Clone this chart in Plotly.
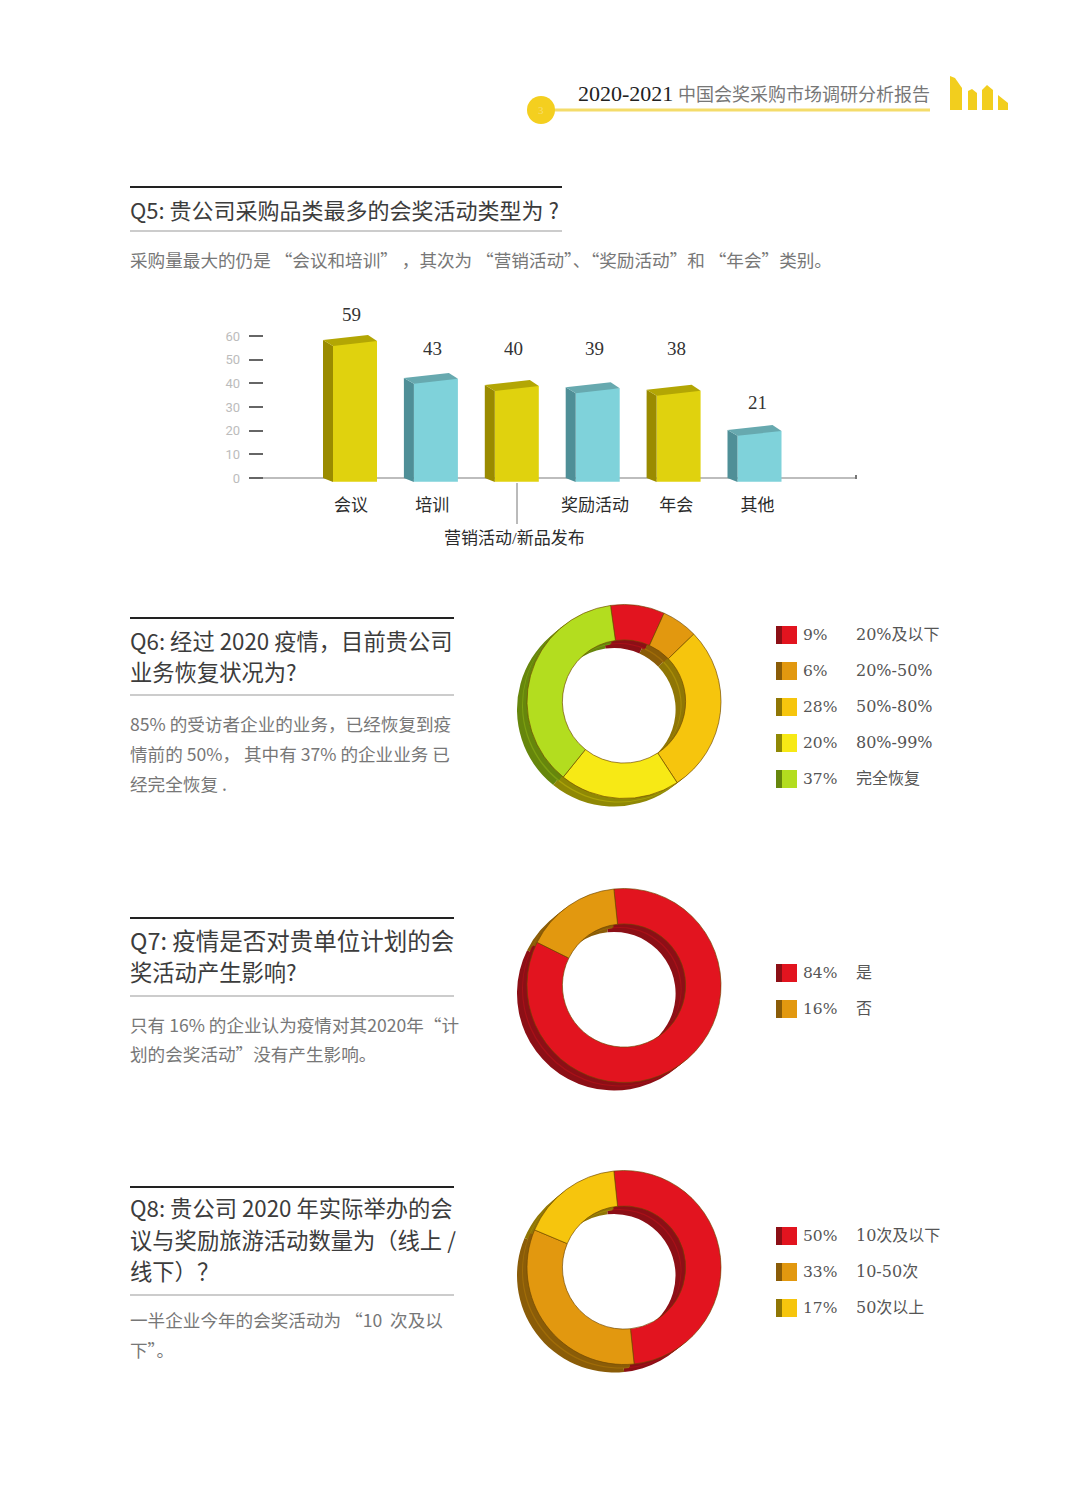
import plotly.graph_objects as go

# ---------- data ----------
bar_categories = ["会议", "培训", "营销活动/新品发布", "奖励活动", "年会", "其他"]
bar_values = [59, 43, 40, 39, 38, 21]

q6_labels = ["20%及以下", "20%-50%", "50%-80%", "80%-99%", "完全恢复"]
q6_values = [9, 6, 28, 20, 37]
q7_labels = ["是", "否"]
q7_values = [84, 16]
q8_labels = ["10次及以下", "10-50次", "50次以上"]
q8_values = [50, 33, 17]

header_year = "2020-2021"
header_title = "中国会奖采购市场调研分析报告"
q5_title = ["Q5: 贵公司采购品类最多的会奖活动类型为 ?"]
q5_body = ["采购量最大的仍是 “会议和培训” ，其次为 “营销活动”、“奖励活动”和 “年会”类别。"]
q6_title = ["Q6: 经过 2020 疫情，目前贵公司", "业务恢复状况为?"]
q6_body = ["85% 的受访者企业的业务，已经恢复到疫", "情前的 50%， 其中有 37% 的企业业务\u00a0已", "经完全恢复 ."]
q7_title = ["Q7: 疫情是否对贵单位计划的会", "奖活动产生影响?"]
q7_body = ["只有 16% 的企业认为疫情对其2020年“计", "划的会奖活动”没有产生影响。"]
q8_title = ["Q8: 贵公司 2020 年实际举办的会", "议与奖励旅游活动数量为（线上 /", "线下）？"]
q8_body = ["一半企业今年的会奖活动为 “10\u00a0\u00a0次及以", "下”。"]

# ---------- style ----------
W, H = 1080, 1504
SERIF = "Liberation Serif, Noto Sans CJK SC"
WIDE_SERIF = "DejaVu Serif, Noto Sans CJK SC"
SANS = "Noto Sans CJK SC, Noto Sans"
RED, RED_D, RED_M = "#e2141f", "#8c0f16", "#a81018"
ORG, ORG_D, ORG_M = "#e2980f", "#8a5c08", "#a06c08"
AMB, AMB_D, AMB_M = "#f6c50d", "#8f7605", "#a88c08"
YEL, YEL_D, YEL_M = "#f7e915", "#8f8805", "#aaa208"
GRN, GRN_D, GRN_M = "#b3dd1f", "#66860c", "#7c9f10"

def fx(p): return p / W
def fy(p): return 1 - p / H

fig = go.Figure()
ann, shp = [], []

def text(x, y, s, size, color, family=SANS, anchor="left"):
    ann.append(dict(x=fx(x), y=fy(y), xref="paper", yref="paper", text=s, showarrow=False,
                    xanchor=anchor, yanchor="middle", align=anchor, borderpad=0, xshift=-1 if anchor == "left" else 0,
                    font=dict(size=size, color=color, family=family)))

def line(x0, y0, x1, y1, color, width):
    shp.append(dict(type="line", xref="paper", yref="paper", x0=fx(x0), x1=fx(x1), y0=fy(y0), y1=fy(y1),
                    line=dict(color=color, width=width)))

def rect(x0, y0, x1, y1, color):
    shp.append(dict(type="rect", xref="paper", yref="paper", x0=fx(x0), x1=fx(x1), y0=fy(y0), y1=fy(y1),
                    fillcolor=color, line=dict(width=0)))

def poly(points, color):
    d = "M" + " L".join(f"{fx(x):.5f},{fy(y):.5f}" for x, y in points) + " Z"
    shp.append(dict(type="path", xref="paper", yref="paper", path=d, fillcolor=color, line=dict(width=0)))

# ---------- bars ----------
PX_PER_X = 80.9
LABEL_STEP = 81.3
AX_L, AX_R = 249, 857
C0 = 350
PX_PER_Y = 2.367
Y0 = 478
AX_T, AX_B = 325, 486
x_rng = [(AX_L - C0) / PX_PER_X, (AX_R - C0) / PX_PER_X]
y_rng = [(Y0 - AX_B) / PX_PER_Y, (Y0 - AX_T) / PX_PER_Y]

BAR_STYLE = [("#e0d20e", "#9a8b00", "#b3a604"), ("#7fd2da", "#4f8f97", "#67a9af")]
idx = list(range(len(bar_values)))
L, F, R, B = -27 / PX_PER_X, -17 / PX_PER_X, 27 / PX_PER_X, 18 / PX_PER_X

for i, v in zip(idx, bar_values):
    front, side, top = BAR_STYLE[i % 2]
    fig.add_bar(x=[i + (F + R) / 2], y=[v - 1.1 + 1.6], base=[-1.6], width=[R - F],
                marker=dict(color=front, line=dict(width=0)), showlegend=False, hoverinfo="skip")
    fig.add_scatter(x=[i + L, i + F, i + F, i + L], y=[v - 0.7, v - 3.2, -1.7, 0], fill="toself",
                    fillcolor=side, mode="none", showlegend=False, hoverinfo="skip")
    fig.add_scatter(x=[i + L, i + B, i + R, i + F], y=[v - 0.7, v + 1.4, v - 1.1, v - 3.2], fill="toself",
                    fillcolor=top, mode="none", showlegend=False, hoverinfo="skip")

tick_idx = [i for i in idx if i != 2]
fig.update_layout(
    xaxis=dict(domain=[fx(AX_L), fx(AX_R)], range=x_rng, tickmode="array",
               tickvals=[i * LABEL_STEP / PX_PER_X + 1 / PX_PER_X for i in tick_idx],
               ticktext=[bar_categories[i] for i in tick_idx], ticks="", showgrid=False,
               zeroline=False, showline=False, tickfont=dict(size=17, color="#2b2b2b", family=SERIF),
               anchor="free", position=1 - 493 / H, fixedrange=True),
    yaxis=dict(domain=[fy(AX_B), fy(AX_T)], range=y_rng, tickmode="array", tickvals=[0, 10, 20, 30, 40, 50, 60],
               ticks="inside", ticklen=14, tickwidth=2, tickcolor="#666", showgrid=False, zeroline=True,
               zerolinecolor="#bdbdbd", zerolinewidth=2, showline=False, ticklabelstandoff=8,
               tickfont=dict(size=13, color="#bcbcbc", family="Roboto"), fixedrange=True),
)
label_y = [314, 348, 348, 348, 348, 403]
for i, v, py in zip(idx, bar_values, label_y):
    text(C0 + i * LABEL_STEP + 1, py, str(v), 19, "#333", SERIF, "center")
text(514, 538, bar_categories[2], 17, "#2b2b2b", SERIF, "center")
line(517, 483, 517, 524, "#777", 1)
line(856, 475, 856, 479, "#777", 2)

# ---------- donuts ----------
R_OUT = 97
HOLE = 0.635
def donut(cx, cy, values, colors, mids, darks, rotation):
    for dx, dy, cols in [(-10, 8, darks), (-5, 4, mids), (-4, 3, darks)]:
        fig.add_pie(values=values, sort=False, direction="clockwise", rotation=rotation, hole=HOLE,
                    marker=dict(colors=cols, line=dict(width=0)), textinfo="none", hoverinfo="skip",
                    showlegend=False,
                    domain=dict(x=[fx(cx + dx - R_OUT), fx(cx + dx + R_OUT)],
                                y=[fy(cy + dy + R_OUT), fy(cy + dy - R_OUT)]))
    fig.add_pie(values=values, sort=False, direction="clockwise", rotation=rotation, hole=HOLE,
                marker=dict(colors=colors, line=dict(width=1, color="rgba(110,70,0,0.65)")), textinfo="none",
                hoverinfo="skip", showlegend=False,
                domain=dict(x=[fx(cx - R_OUT), fx(cx + R_OUT)], y=[fy(cy + R_OUT), fy(cy - R_OUT)]))

donut(624, 701.5, q6_values, [RED, ORG, AMB, YEL, GRN], [RED_M, ORG_M, AMB_M, YEL_M, GRN_M],
      [RED_D, ORG_D, AMB_D, YEL_D, GRN_D], -8)
donut(624, 985.5, q7_values, [RED, ORG], [RED_M, ORG_M], [RED_D, ORG_D], -6)
donut(624, 1267.5, q8_values, [RED, ORG, AMB], [RED_M, ORG_M, AMB_M], [RED_D, ORG_D, AMB_D], -6)

def legend(rows, values, labels, colors, darks):
    for py, v, lab, c, d in zip(rows, values, labels, colors, darks):
        rect(776, py - 9, 797, py + 9, c)
        rect(776, py - 9, 782, py + 9, d)
        text(803, py, f"{v}%", 15.5, "#555", WIDE_SERIF)
        text(856, py - 1, lab, 16, "#555", WIDE_SERIF)

legend([635, 671, 707, 743, 779], q6_values, q6_labels, [RED, ORG, AMB, YEL, GRN], [RED_D, ORG_D, AMB_D, YEL_D, GRN_D])
legend([973, 1009], q7_values, q7_labels, [RED, ORG], [RED_D, ORG_D])
legend([1236, 1272, 1308], q8_values, q8_labels, [RED, ORG, AMB], [RED_D, ORG_D, AMB_D])

# ---------- page text ----------
def block(top, right, title, title_y, rule_y, body, body_y, tsize=22.3, bsize=17.6, first_size=None):
    line(130, top, right, top, "#222", 2)
    line(130, rule_y, right, rule_y, "#999", 1)
    for n, (s, y) in enumerate(zip(title, title_y)):
        text(130, y - 1, s, first_size if (first_size and n == 0) else tsize, "#3c3c3c")
    for s, y in zip(body, body_y):
        text(130, y - 1, s, bsize, "#777")

block(187, 562, q5_title, [210], 231, q5_body, [260], 22, 17.6)
block(618, 454, q6_title, [641, 672], 695, q6_body, [724, 754, 784])
block(918, 454, q7_title, [941, 972], 996, q7_body, [1025, 1054], first_size=23.5)
block(1187, 454, q8_title, [1208, 1240, 1271], 1295, q8_body, [1320, 1350])

# ---------- header ----------
line(541, 110, 930, 110, "#f4dc6a", 3)
shp.append(dict(type="circle", xref="paper", yref="paper", x0=fx(527), x1=fx(555), y0=fy(124), y1=fy(96),
                fillcolor="#f4cf1f", line=dict(width=0)))
text(541, 110, "3", 11, "#f7dd70", SERIF, "center")
text(578, 93, header_year, 22, "#222", SERIF)
text(678, 93, header_title, 18, "#777")
LOGO = [[(950, 110), (950, 76), (955, 78), (962, 88), (962, 110)],
        [(968, 110), (968, 91), (972, 89), (977, 93), (977, 110)],
        [(982, 110), (982, 90), (987, 85), (993, 90), (993, 110)],
        [(998, 110), (998, 95), (1008, 103), (1008, 110)]]
for pts in LOGO:
    poly(pts, "#f2ce1e")

fig.update_layout(width=W, height=H, margin=dict(l=0, r=0, t=0, b=0), paper_bgcolor="white", plot_bgcolor="white",
                  annotations=ann, shapes=shp, showlegend=False, barmode="overlay")
fig.write_html("out.html", post_script="document.body.style.margin='0';", config=dict(displayModeBar=False))
